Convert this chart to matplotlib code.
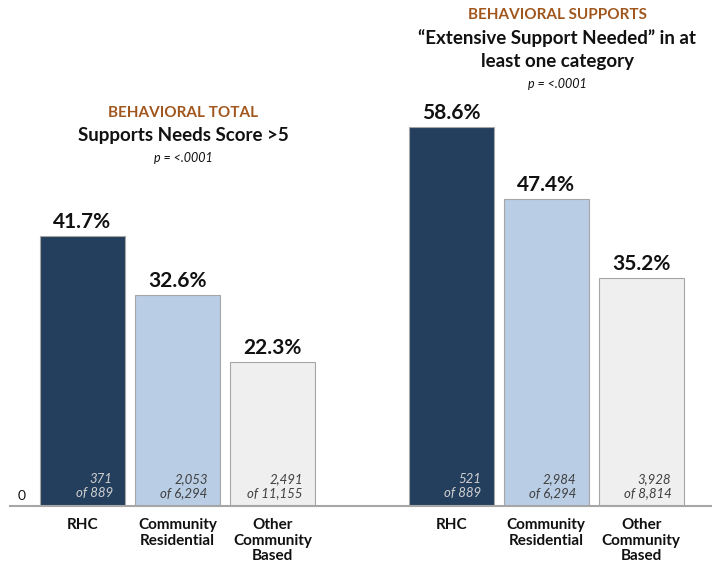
import matplotlib.pyplot as plt

plt.rcParams['font.family'] = ['Lato', 'DejaVu Sans']

# bar values (percent) for the two panels
categories = ["RHC", "Community\nResidential", "Other\nCommunity\nBased"]
total_pct = [41.7, 32.6, 22.3]
total_counts = ["371\nof 889", "2,053\nof 6,294", "2,491\nof 11,155"]
supports_pct = [58.6, 47.4, 35.2]
supports_counts = ["521\nof 889", "2,984\nof 6,294", "3,928\nof 8,814"]

bar_colors = ["#243f5e", "#b9cde5", "#efefef"]
count_colors = ["#d0d0d0", "#404040", "#404040"]
orange = "#a0561c"

fig = plt.figure(figsize=(7.12, 5.64), dpi=100)
ax = fig.add_axes([0, 58 / 564, 1, 506 / 564])

x_left = [0, 1, 2]
x_right = [3.88, 4.88, 5.88]
width = 0.895

for xs, vals, counts in [(x_left, total_pct, total_counts),
                         (x_right, supports_pct, supports_counts)]:
    ax.bar(xs, vals, width=width, color=bar_colors, edgecolor="#a6a6a6",
           linewidth=0.8, zorder=2)
    for i, (x, v, c, cc) in enumerate(zip(xs, vals, counts, count_colors)):
        ax.text(x, v + 0.6, f"{v:.1f}%", ha="center", va="bottom",
                fontsize=15, fontweight="bold", color="#111111")
        ax.text(x + width / 2 - 0.13, 1.1, c, ha="right", va="bottom",
                fontsize=9.5, style="italic", color=cc, linespacing=1.2)
        ax.text(x, -1.9, categories[i], ha="center", va="top",
                fontsize=11, fontweight="bold", color="#111111",
                linespacing=1.12)

ax.set_xlim(-82.5 / 95, (712 - 82.5) / 95)
ax.set_ylim(0, 506 / 6.47)

for s in ax.spines.values():
    s.set_visible(False)
ax.plot([10 / 712, 1], [0, 0], transform=ax.transAxes, color="#a6a6a6",
        linewidth=1.5, clip_on=False, zorder=3)
ax.set_xticks([])
ax.set_yticks([])
ax.text(22 / 712, 10 / 506, "0", transform=ax.transAxes, ha="center",
        va="center", fontsize=10, color="#111111")

# panel headings
ax.text(1.06, 60.7, "BEHAVIORAL TOTAL", ha="center", va="center",
        fontsize=11, fontweight="bold", color=orange)
ax.text(1.06, 57.2, "Supports Needs Score >5", ha="center", va="center",
        fontsize=13.5, fontweight="bold", color="#111111")
ax.text(1.06, 53.8, "p = <.0001", ha="center", va="center",
        fontsize=9, style="italic", color="#111111")

ax.text(5.0, 75.9, "BEHAVIORAL SUPPORTS", ha="center", va="center",
        fontsize=11, fontweight="bold", color=orange)
ax.text(5.0, 72.3, "\u201cExtensive Support Needed\u201d in at", ha="center",
        va="center", fontsize=13.5, fontweight="bold", color="#111111")
ax.text(5.0, 68.7, "least one category", ha="center", va="center",
        fontsize=13.5, fontweight="bold", color="#111111")
ax.text(5.0, 65.3, "p = <.0001", ha="center", va="center",
        fontsize=9, style="italic", color="#111111")

fig.savefig("out.png", dpi=100)
